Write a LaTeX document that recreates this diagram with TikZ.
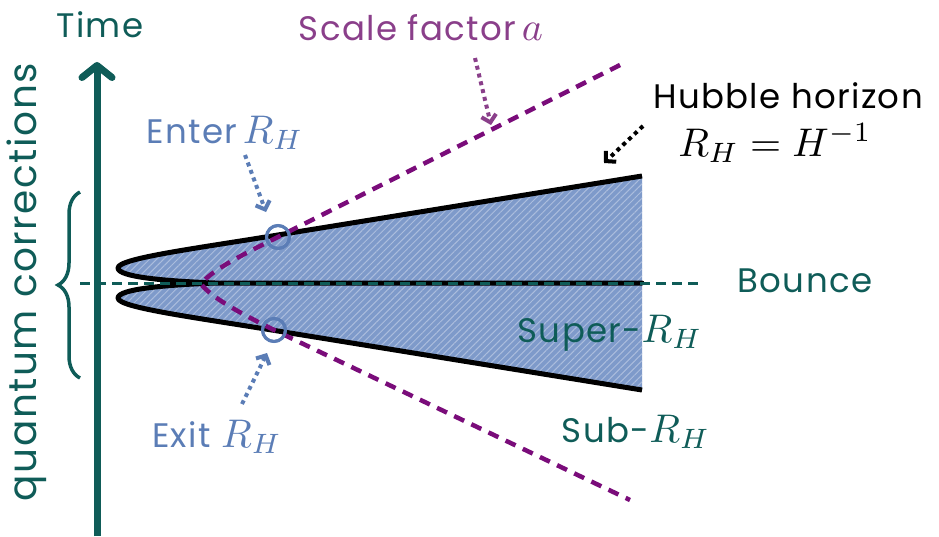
\documentclass[tikz,border=0pt]{standalone}
\usepackage{graphicx}
\usepackage{fontspec}
\newfontfamily\handfont[LetterSpace=4]{Poppins}
\usetikzlibrary{arrows.meta,positioning,calc,decorations.pathreplacing,patterns.meta}
\definecolor{Teal}{HTML}{0F5C58}
\definecolor{Plum}{HTML}{7A0C7A}
\definecolor{PlumText}{HTML}{8A3F8A}
\definecolor{Steel}{HTML}{5B7DB6}
\definecolor{Slab}{HTML}{7E9ACA}
\newcommand{\mlbl}[1]{\scalebox{4}{\normalsize$#1$}}
\tikzset{lbl/.style={font=\handfont\fontsize{34}{40}\selectfont,inner sep=0pt},
  horizon/.style={line width=5pt,draw=black,line join=round,
    preaction={fill=Slab},pattern={Lines[angle=45,distance=5pt,line width=1pt]},
    pattern color=white!35!Slab},
  scaleline/.style={line width=4.5pt,draw=Plum,dash pattern=on 11pt off 8pt},
  bounceline/.style={line width=3pt,draw=Teal,dash pattern=on 10pt off 6pt},
  pointer/.style={line width=4pt,dash pattern=on 4pt off 4pt,
    -{Straight Barb[length=7pt,width=15pt]}},
  timeaxis/.style={line width=7pt,draw=Teal,-{Straight Barb[round,length=12pt,width=30pt]}},
  ring/.style={circle,draw=Steel,line width=3pt,minimum size=23pt,inner sep=0pt}}

\begin{document}
\begin{tikzpicture}[x=1pt,y=-1pt]
  \useasboundingbox (0,0) rectangle (939,536);
  % horizon lobes
  \path[horizon] (642,176) -- (290,233) .. controls (200,248) and (118,258) .. (118,268)
    .. controls (118,277) and (165,281) .. (215,283) -- (642,283) -- (215,283)
    .. controls (165,285) and (118,289) .. (118,298)
    .. controls (118,308) and (200,318) .. (290,333) -- (642,390);
  % bounce
  \coordinate (bounceL) at (80,283);
  \coordinate (bounceR) at (700,283);
  \draw[bounceline] (bounceL) -- (bounceR);
  % time axis
  \coordinate (axisfoot) at (97,536);
  \coordinate (axistip) at (97,62);
  \draw[timeaxis] (axisfoot) -- (axistip);
  % scale factor
  \coordinate (aTop) at (620,65);
  \coordinate (aBot) at (630,500);
  \node[ring] (cin) at (278,237) {};
  \node[ring] (cout) at (274,330) {};
  \draw[scaleline] (aTop) -- (cin.center) .. controls (240,256) and (212,270) .. (201,284)
    .. controls (212,298) and (240,313) .. (cout.center) -- (aBot);
  \node[ring] at (cin) {};
  \node[ring] at (cout) {};
  % brace
  \coordinate (braceA) at (80,378);
  \coordinate (braceB) at (80,192);
  \draw[Teal,line width=3.5pt,decorate,decoration={brace,amplitude=22pt}] (braceA) -- (braceB);
  % labels
  \node[lbl,text=Teal] (time) at (100,25) {Time};
  \node[lbl,text=Teal,rotate=90,font=\handfont\fontsize{39}{44}\selectfont] (quantum) at (27,282) {quantum corrections};
  \node[lbl,text=PlumText] (scale) at (421,28) {Scale factor\,\mlbl{a}};
  \node[lbl] (hubble) at (788,96) {Hubble horizon};
  \node[lbl] (hubbleeq) at (775,143) {\mlbl{R_H = H^{-1}}};
  \node[lbl,text=Steel] (enter) at (225,133) {Enter\,\mlbl{R_H}};
  \node[lbl,text=Steel] (exit) at (217,437) {Exit \mlbl{R_H}};
  \node[lbl,text=Teal] (bounce) at (805,281) {Bounce};
  \node[lbl,text=Teal] (super) at (610,333) {Super-\mlbl{R_H}};
  \node[lbl,text=Teal] (sub) at (636,432) {Sub-\mlbl{R_H}};
  % pointers
  \coordinate (enterS) at (245,155);
  \coordinate (enterE) at (266,212);
  \coordinate (exitS) at (242,404);
  \coordinate (exitE) at (267,353);
  \coordinate (scaleS) at (475,58);
  \coordinate (scaleE) at (491,125);
  \coordinate (hubbleS) at (643,126);
  \coordinate (hubbleE) at (604,163);
  \draw[pointer,Steel] (enterS) -- (enterE);
  \draw[pointer,Steel] (exitS) -- (exitE);
  \draw[pointer,PlumText] (scaleS) -- (scaleE);
  \draw[pointer,black] (hubbleS) -- (hubbleE);
\end{tikzpicture}
\end{document}
